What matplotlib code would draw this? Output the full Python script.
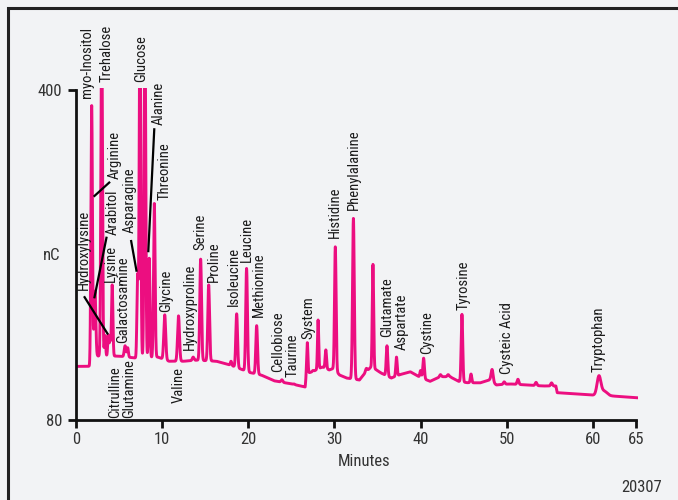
import numpy as np
import matplotlib
matplotlib.use("Agg")
from matplotlib import pyplot as plt
from matplotlib.patches import Rectangle

# baseline of the trace (minutes, nC)
base_t = [0, 1.5, 1.65, 1.75, 2.5, 5.0, 7.0, 9.5, 10.8, 12.5, 14.0, 16.3, 18.0, 20.2, 21.5, 23.0,
          25.0, 26.6, 26.75, 27.5, 28.6, 29.4, 29.9, 30.6, 31.4, 32.9, 33.6, 34.2, 34.8, 35.4,
          36.6, 37.6, 38.8, 39.8, 41.1, 42.3, 43.4, 44.4, 45.4, 46.9, 48.0, 48.8, 50.3, 52.3,
          54.2, 55.7, 55.85, 59.9, 62.2, 65.1]
base_nc = [132, 132, 128, 134, 142, 142, 140, 141, 137, 137, 138, 137, 133, 126, 123.6, 118,
           115, 112, 125, 127, 131.5, 128.5, 130, 123.6, 120.7, 118.8, 126, 131, 129, 125.6,
           120.7, 124, 126.8, 122, 117.5, 122, 122, 117.5, 116.2, 116, 118.8, 114, 115, 114,
           113, 113, 106.5, 104.2, 103.3, 101.6]

# peaks: retention time (min), apex (nC), width (min)
peak_t = [1.82, 2.2, 2.98, 3.37, 3.75, 3.95, 4.2, 5.7, 6.0, 7.15, 7.43, 8.0, 8.5, 9.09,
          10.3, 11.9, 13.6, 14.47, 15.4, 18.0, 18.65, 19.8, 20.97, 23.9, 25.3, 26.85, 27.5,
          28.1, 29.0, 30.1, 32.2, 33.7, 34.47, 36.1, 37.2, 40.0, 40.35, 42.3, 43.2, 44.8,
          45.85, 48.3, 49.7, 51.3, 53.4, 55.2, 60.7, 61.3]
peak_nc = [385, 205, 480, 162, 162, 158, 211, 152, 150, 219, 480, 480, 237, 290,
           182, 181, 141, 236, 211, 137, 183, 227, 171.5, 119, 115, 155, 128,
           177, 148, 248, 275.6, 130, 231, 152, 141, 128, 140, 124, 124, 182.5,
           124.6, 129, 117, 119.5, 116.5, 116, 122, 108]
peak_w = [0.09, 0.1, 0.09, 0.07, 0.07, 0.07, 0.08, 0.1, 0.08, 0.08, 0.09, 0.09, 0.08, 0.09,
          0.11, 0.11, 0.1, 0.1, 0.1, 0.08, 0.1, 0.1, 0.1, 0.1, 0.1, 0.07, 0.07,
          0.07, 0.08, 0.09, 0.1, 0.1, 0.08, 0.09, 0.08, 0.08, 0.09, 0.1, 0.1, 0.09,
          0.08, 0.12, 0.1, 0.1, 0.1, 0.1, 0.22, 0.35]

# labels: name, minutes, nC at text bottom
lab_name = ["Hydroxylysine", "myo-Inositol", "Trehalose", "Arginine", "Arabitol", "Lysine",
            "Galactosamine", "Asparagine", "Glucose", "Alanine", "Threonine", "Glycine",
            "Hydroxyproline", "Serine", "Proline", "Isoleucine", "Leucine", "Methionine",
            "Cellobiose", "Taurine", "System", "Histidine", "Phenylalanine", "Glutamate",
            "Aspartate", "Cystine", "Tyrosine", "Cysteic Acid", "Tryptophan",
            "Citrulline", "Glutamine", "Valine"]
lab_t = [0.9, 1.3, 3.55, 4.5, 4.3, 4.1, 5.5, 6.27, 7.6, 9.55, 10.3, 10.45, 13.2, 14.4, 16.0,
         18.3, 19.8, 21.25, 23.5, 25.2, 26.96, 30.06, 32.27, 36.06, 37.8, 40.7, 44.96, 50.0,
         60.7, 4.5, 6.15, 11.9]
lab_nc = [206, 392, 408, 314, 259, 214, 154.7, 261, 408, 366, 293, 185, 148, 245, 214,
          190.6, 233.5, 180, 127, 122, 159, 257, 283.7, 160.8, 148, 144, 186.7, 125, 127,
          81.5, 81.5, 96.5]

# leader lines: (t0, nc0, t1, nc1)
leaders = [(0.93, 200, 3.72, 162.9),
           (3.56, 257.8, 2.12, 198),
           (3.95, 311, 2.05, 296.6),
           (6.38, 254.6, 7.04, 223.8),
           (9.09, 363, 8.39, 242.7)]

xticks = [0, 10, 20, 30, 40, 50, 60, 65]
yticks = [80, 400]

pink = "#ec0e80"
plt.rcParams["font.family"] = ["Roboto Condensed", "Liberation Sans", "DejaVu Sans"]

t = np.linspace(0, 65.1, 8000)
base = np.interp(t, base_t, base_nc)
sig = base.copy()
for pt, pn, pw in zip(peak_t, peak_nc, peak_w):
    amp = pn - np.interp(pt, base_t, base_nc)
    sig += amp * np.exp(-0.5 * ((t - pt) / pw) ** 2)

fig = plt.figure(figsize=(6.78, 5.0), dpi=100)
fig.patch.set_facecolor("#f2f3f5")
fig.patches.append(Rectangle((8 / 678, -0.1), 1.2, (500 - 7.5) / 500 + 0.1,
                             transform=fig.transFigure, fill=False,
                             edgecolor="#222222", linewidth=2.2))

ax = fig.add_axes([76 / 678, 80 / 500, 561.7 / 678, 332 / 500])
ax.set_facecolor("none")
ax.plot(t, sig, color=pink, lw=2.1, solid_joinstyle="round")
ax.set_xlim(0, 65.2)
ax.set_ylim(80, 402)

for sp in ["top", "right"]:
    ax.spines[sp].set_visible(False)
ax.spines["left"].set_bounds(80, 400)
ax.spines["bottom"].set_bounds(0, 65)
for sp in ["left", "bottom"]:
    ax.spines[sp].set_linewidth(2)
    ax.spines[sp].set_color("#111111")

ax.set_xticks(xticks)
ax.set_xticklabels([str(v) for v in xticks])
ax.set_yticks(yticks)
ax.set_yticklabels([str(v) for v in yticks])
ax.tick_params(axis="both", length=6, width=2, color="#111111", labelsize=12,
               labelcolor="#333333")
ax.tick_params(axis="x", pad=3)
ax.tick_params(axis="y", pad=4)

for name, lt, ln in zip(lab_name, lab_t, lab_nc):
    ax.text(lt, ln, name, rotation=90, ha="center", va="bottom", fontsize=10.5,
            color="#1a1a1a", clip_on=False)

for t0, n0, t1, n1 in leaders:
    ax.plot([t0, t1], [n0, n1], color="black", lw=1.6, solid_capstyle="butt")

fig.text(52 / 678, 1 - 255 / 500, "nC", ha="center", va="center", fontsize=12, color="#333333")
fig.text(364 / 678, 1 - 462 / 500, "Minutes", ha="center", va="center", fontsize=12,
         color="#333333")
fig.text(662 / 678, 1 - 487 / 500, "20307", ha="right", va="center", fontsize=12,
         color="#333333")

fig.savefig("out.png", dpi=100, facecolor=fig.get_facecolor())
